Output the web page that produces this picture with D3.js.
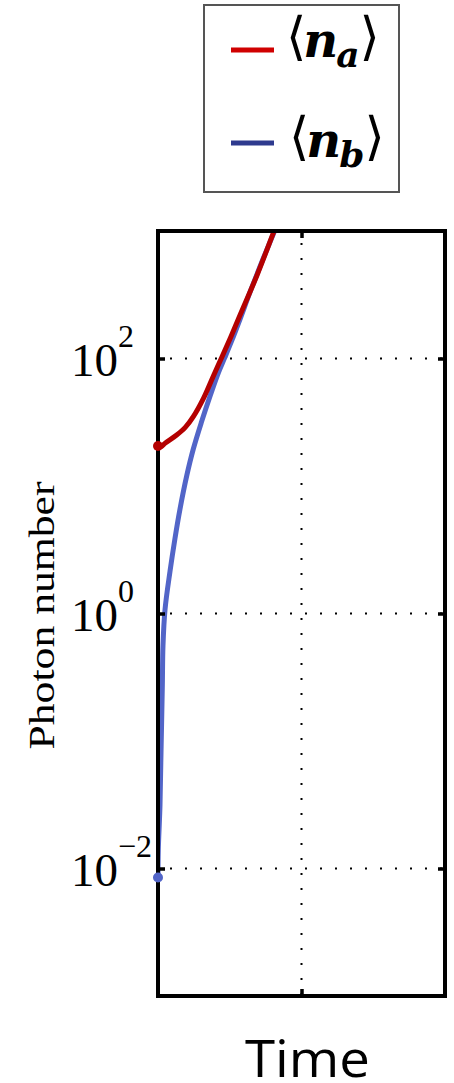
<!DOCTYPE html>
<html>
<head>
<meta charset="utf-8">
<script src="https://cdn.jsdelivr.net/npm/d3@7"></script>
<style>
  html, body { margin: 0; padding: 0; background: #fff; }
  svg { display: block; }
</style>
</head>
<body>
<div id="chart"></div>
<script>
// ---------------- data ----------------
const timeDomain = [0, 1];
const xTickValues = [0.5];
const yDomain = [1e-3, 1e3];
const yTickValues = [1e-2, 1, 1e2];
const yTickBase = "10";
const yTickExponents = ["−2", "0", "2"];
const yAxisTitle = "Photon number";
const xAxisTitle = "Time";

const seriesNames = ["a", "b"];
const seriesColors = ["#b40000", "#5265c8"];
const legendColors = ["#d00000", "#2e3a8e"];

const timeA   = [0, 0.012, 0.024, 0.065, 0.095, 0.123, 0.158, 0.193, 0.222, 0.251, 0.286, 0.345, 0.401, 0.425];
const photonA = [20.6, 20.4, 21.6, 25.1, 28.8, 35.0, 48.5, 73.0, 102, 143, 219, 450, 955, 1318];

const timeB   = [0, 0.001, 0.007, 0.0105, 0.015, 0.0174, 0.0244, 0.0418, 0.0592, 0.0767, 0.100, 0.123, 0.152, 0.181, 0.210, 0.233, 0.257, 0.286, 0.3206, 0.366, 0.408, 0.432];
const photonB = [0.0085, 0.0138, 0.0316, 0.0813, 0.263, 0.562, 1.07, 2.14, 3.89, 6.61, 12.0, 19.5, 32.0, 50.5, 77.0, 102, 138, 204, 331, 603, 1023, 1400];

// ---------------- layout ----------------
const W = 454, H = 1083;
const plot = { left: 158, right: 445, top: 231, bottom: 996 };

const svg = d3.select("#chart").append("svg")
  .attr("width", W).attr("height", H)
  .attr("viewBox", `0 0 ${W} ${H}`);
svg.append("rect").attr("width", W).attr("height", H).attr("fill", "#fff");

const x = d3.scaleLinear().domain(timeDomain).range([plot.left, plot.right]);
const y = d3.scaleLog().domain(yDomain).range([plot.bottom, plot.top]);

// ---------------- grid ----------------
const grid = svg.append("g").attr("class", "grid");
grid.selectAll("line.hg").data(yTickValues).join("line")
  .attr("class", "hg")
  .attr("x1", plot.left + 12).attr("x2", plot.right)
  .attr("y1", d => y(d)).attr("y2", d => y(d))
  .attr("stroke", "#000").attr("stroke-width", 2)
  .attr("stroke-dasharray", "2,13");
grid.selectAll("line.vg").data(xTickValues).join("line")
  .attr("class", "vg")
  .attr("x1", d => x(d)).attr("x2", d => x(d))
  .attr("y1", plot.top + 12).attr("y2", plot.bottom)
  .attr("stroke", "#000").attr("stroke-width", 2)
  .attr("stroke-dasharray", "2,13");

// ---------------- curves ----------------
svg.append("clipPath").attr("id", "clip")
  .append("rect")
  .attr("x", plot.left).attr("y", plot.top)
  .attr("width", plot.right - plot.left).attr("height", plot.bottom - plot.top);

const line = d3.line()
  .x(d => x(d[0])).y(d => y(d[1]))
  .curve(d3.curveCatmullRom.alpha(0.5));

const seriesData = [
  d3.zip(timeA, photonA),
  d3.zip(timeB, photonB)
];

const curves = svg.append("g").attr("clip-path", "url(#clip)");
[1, 0].forEach(i => {
  curves.append("path")
    .datum(seriesData[i])
    .attr("d", line)
    .attr("fill", "none")
    .attr("stroke", seriesColors[i])
    .attr("stroke-width", 5)
    .attr("stroke-linejoin", "round")
    .attr("stroke-linecap", "round");
});

// ---------------- axes / frame ----------------
const axStyle = g => {
  g.select(".domain").remove();
  g.selectAll(".tick line").attr("stroke", "#000").attr("stroke-width", 3.5);
  g.selectAll(".tick text").remove();
};
svg.append("g").attr("transform", `translate(${plot.left},0)`)
  .call(d3.axisLeft(y).tickValues(yTickValues).tickSize(-7).tickFormat(""))
  .call(axStyle);
svg.append("g").attr("transform", `translate(${plot.right},0)`)
  .call(d3.axisRight(y).tickValues(yTickValues).tickSize(-7).tickFormat(""))
  .call(axStyle);
svg.append("g").attr("transform", `translate(0,${plot.bottom})`)
  .call(d3.axisBottom(x).tickValues(xTickValues).tickSize(-7).tickFormat(""))
  .call(axStyle);
svg.append("g").attr("transform", `translate(0,${plot.top})`)
  .call(d3.axisTop(x).tickValues(xTickValues).tickSize(-7).tickFormat(""))
  .call(axStyle);

svg.append("rect")
  .attr("x", plot.left).attr("y", plot.top)
  .attr("width", plot.right - plot.left).attr("height", plot.bottom - plot.top)
  .attr("fill", "none").attr("stroke", "#000").attr("stroke-width", 4);

// start markers
svg.selectAll("circle.start").data(seriesData).join("circle")
  .attr("class", "start")
  .attr("cx", d => x(d[0][0])).attr("cy", d => y(d[0][1]))
  .attr("r", 5)
  .attr("fill", (d, i) => seriesColors[i]);

// ---------------- tick labels ----------------
const lab = svg.append("g").attr("font-family", "'Liberation Serif', 'Times New Roman', serif").attr("fill", "#000");
yTickValues.forEach((v, i) => {
  lab.append("text")
    .attr("x", 118).attr("y", y(v) + 17)
    .attr("text-anchor", "end")
    .attr("font-size", 47)
    .text(yTickBase);
  lab.append("text")
    .attr("x", 118).attr("y", y(v) - 12)
    .attr("text-anchor", "start")
    .attr("font-size", 32)
    .text(yTickExponents[i]);
});

// y axis title
const yMid = (plot.top + plot.bottom) / 2 + 2;
lab.append("text")
  .attr("transform", `translate(54,${yMid}) rotate(-90)`)
  .attr("text-anchor", "middle")
  .attr("font-size", 36)
  .attr("textLength", 268)
  .attr("lengthAdjust", "spacingAndGlyphs")
  .text(yAxisTitle);

// x axis title
svg.append("text")
  .attr("x", 307.5).attr("y", 1077)
  .attr("text-anchor", "middle")
  .attr("font-family", "'Open Sans', 'Noto Sans', sans-serif")
  .attr("font-size", 52)
  .attr("textLength", 125)
  .attr("lengthAdjust", "spacingAndGlyphs")
  .attr("fill", "#000")
  .text(xAxisTitle);

// ---------------- legend ----------------
const legend = svg.append("g");
legend.append("rect")
  .attr("x", 204).attr("y", 5).attr("width", 195).attr("height", 187)
  .attr("fill", "#fff").attr("stroke", "#555").attr("stroke-width", 2);

const legendRows = [
  { lineY: 50, baseY: 57, tx: 286 },
  { lineY: 143, baseY: 157, tx: 289 }
];
seriesNames.forEach((name, i) => {
  const r = legendRows[i];
  legend.append("line")
    .attr("x1", 231).attr("x2", 274)
    .attr("y1", r.lineY).attr("y2", r.lineY)
    .attr("stroke", legendColors[i]).attr("stroke-width", 5);
  const t = legend.append("text")
    .attr("x", r.tx).attr("y", r.baseY)
    .attr("fill", "#000");
  t.append("tspan")
    .attr("font-family", "'DejaVu Sans', sans-serif")
    .attr("font-size", 52)
    .attr("dy", -3)
    .text("⟨");
  t.append("tspan")
    .attr("font-family", "'DejaVu Serif', serif")
    .attr("font-weight", "bold").attr("font-style", "italic")
    .attr("font-size", 48)
    .attr("dx", -3).attr("dy", 3)
    .text("n");
  t.append("tspan")
    .attr("font-family", "'DejaVu Serif', serif")
    .attr("font-weight", "bold").attr("font-style", "italic")
    .attr("font-size", 36)
    .attr("dx", -2).attr("dy", 10)
    .text(name);
  t.append("tspan")
    .attr("font-family", "'DejaVu Sans', sans-serif")
    .attr("font-size", 52)
    .attr("dx", 0).attr("dy", -13)
    .text("⟩");
});
</script>
</body>
</html>
